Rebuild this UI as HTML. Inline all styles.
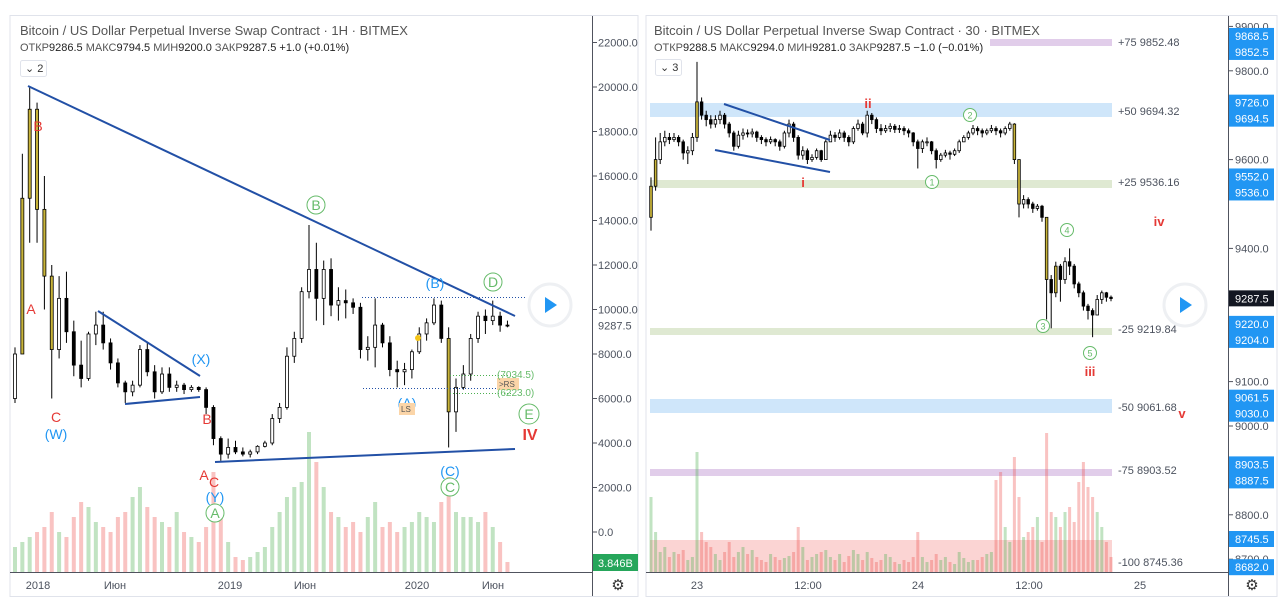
<!DOCTYPE html>
<html><head><meta charset="utf-8"><style>
html,body{margin:0;padding:0;background:#fff;width:1280px;height:600px;overflow:hidden}
svg{display:block;font-family:"Liberation Sans","DejaVu Sans",sans-serif}
.ax{font-size:11px;fill:#4c525e}
.lb{font-size:14px}
</style></head><body>
<svg id="chart" width="1280" height="600" viewBox="0 0 1280 600">
<rect x="0" y="0" width="1280" height="600" fill="#fff"/>
<rect x="10" y="15.5" width="628" height="581" fill="#fff" stroke="#e0e3eb"/>
<rect x="646" y="15.5" width="631" height="581" fill="#fff" stroke="#e0e3eb"/>
<line x1="592.5" y1="16" x2="592.5" y2="596" stroke="#50535e"/>
<line x1="10" y1="572.5" x2="592" y2="572.5" stroke="#50535e"/>
<line x1="1228.5" y1="16" x2="1228.5" y2="596" stroke="#50535e"/>
<line x1="646" y1="572.5" x2="1228" y2="572.5" stroke="#50535e"/>

<rect x="990" y="39" width="122" height="7" fill="#e1cdea"/>
<rect x="650" y="103" width="462" height="14" fill="#cfe6fa"/>
<rect x="650" y="180" width="462" height="8" fill="#dfe9d2"/>
<rect x="650" y="328" width="462" height="7" fill="#dfe9d2"/>
<rect x="650" y="399" width="462" height="14" fill="#cfe6fa"/>
<rect x="650" y="469" width="462" height="7" fill="#e1cdea"/>
<rect x="650" y="540" width="462" height="32" fill="rgba(239,83,80,0.25)"/>
<g class="ax" font-size="11">
<text x="1118" y="46">+75 9852.48</text>
<text x="1118" y="115">+50 9694.32</text>
<text x="1118" y="186">+25 9536.16</text>
<text x="1118" y="333">-25 9219.84</text>
<text x="1118" y="411">-50 9061.68</text>
<text x="1118" y="474">-75 8903.52</text>
<text x="1118" y="566">-100 8745.36</text>
</g>

<g id="lvol"></g>
<g id="rvol"></g>
<g id="lcandles"></g>
<g id="rcandles"></g>
<g id="laxis"></g>
<g id="raxis"></g>

<g stroke="#2250a6" stroke-width="2" fill="none">
<line x1="28" y1="86" x2="515" y2="316"/>
<line x1="215" y1="462" x2="515" y2="449"/>
<line x1="98" y1="311" x2="200" y2="376"/>
<line x1="125" y1="404" x2="200" y2="397"/>
</g>
<g stroke-dasharray="1,2" stroke-width="1">
<line x1="362" y1="297.5" x2="527" y2="297.5" stroke="#2250a6"/>
<line x1="363" y1="388.5" x2="497" y2="388.5" stroke="#2250a6"/>
<line x1="450" y1="375.5" x2="512" y2="375.5" stroke="#4caf50"/>
<line x1="450" y1="393.5" x2="512" y2="393.5" stroke="#4caf50"/>
</g>
<g class="lb" text-anchor="middle">
<text x="38" y="131" fill="#e53935">B</text>
<text x="31" y="314" fill="#e53935">A</text>
<text x="56" y="422" fill="#e53935">C</text>
<text x="56" y="439" fill="#2196f3">(W)</text>
<circle cx="316" cy="205" r="9" fill="#fff" stroke="#66bb6a"/>
<text x="316" y="210" fill="#66bb6a">B</text>
<text x="201" y="364" fill="#2196f3">(X)</text>
<text x="207" y="424" fill="#e53935">B</text>
<text x="204" y="480" fill="#e53935">A</text>
<text x="214" y="487" fill="#e53935">C</text>
<text x="215" y="502" fill="#2196f3">(Y)</text>
<circle cx="215" cy="513" r="9" fill="#fff" stroke="#66bb6a"/>
<text x="215" y="518" fill="#66bb6a">A</text>
<text x="435" y="288" fill="#2196f3">(B)</text>
<circle cx="493" cy="282" r="9" fill="#fff" stroke="#66bb6a"/>
<text x="493" y="287" fill="#66bb6a">D</text>
<text x="407" y="408" fill="#2196f3">(A)</text>
<text x="450" y="476" fill="#2196f3">(C)</text>
<circle cx="450" cy="487" r="9" fill="#fff" stroke="#66bb6a"/>
<text x="450" y="492" fill="#66bb6a">C</text>
<circle cx="529" cy="414" r="10" fill="#fff" stroke="#66bb6a"/>
<text x="529" y="419" fill="#66bb6a">E</text>
<text x="530" y="440" fill="#e53935" font-weight="bold" font-size="16">IV</text>
</g>
<rect x="399" y="403" width="16" height="12" fill="#fbd5a8"/>
<text x="401" y="412" font-size="8" fill="#555">LS</text>
<rect x="497" y="378" width="22" height="12" fill="#fbd5a8"/>
<text x="499" y="387" font-size="8" fill="#555">&gt;RS</text>
<text x="497" y="378" font-size="10" fill="#66bb6a">(7034.5)</text>
<text x="497" y="396" font-size="10" fill="#66bb6a">(6223.0)</text>
<circle cx="418" cy="338" r="3" fill="#f5c518"/>

<g stroke="#2250a6" stroke-width="2">
<line x1="724" y1="104" x2="830" y2="140"/>
<line x1="715" y1="150" x2="830" y2="172"/>
</g>
<g text-anchor="middle" font-size="13">
<text x="868" y="108" fill="#e53935" font-weight="bold">ii</text>
<text x="803" y="187" fill="#e53935" font-weight="bold">i</text>
<text x="1159" y="226" fill="#e53935" font-weight="bold">iv</text>
<text x="1090" y="376" fill="#e53935" font-weight="bold">iii</text>
<text x="1182" y="418" fill="#e53935" font-weight="bold">v</text>
</g>
<g text-anchor="middle" font-size="9" fill="#66bb6a">
<circle cx="970" cy="115" r="6.5" fill="#fff" stroke="#66bb6a"/><text x="970" y="118.5">2</text>
<circle cx="932" cy="182" r="6.5" fill="#fff" stroke="#66bb6a"/><text x="932" y="185.5">1</text>
<circle cx="1067" cy="230" r="6.5" fill="#fff" stroke="#66bb6a"/><text x="1067" y="233.5">4</text>
<circle cx="1043" cy="326" r="6.5" fill="#fff" stroke="#66bb6a"/><text x="1043" y="329.5">3</text>
<circle cx="1090" cy="353" r="6.5" fill="#fff" stroke="#66bb6a"/><text x="1090" y="356.5">5</text>
</g>

<text x="20" y="35" font-size="13" fill="#555">Bitcoin / US Dollar Perpetual Inverse Swap Contract · 1H · BITMEX</text>
<text x="20" y="51" font-size="11" fill="#555">ОТКР<tspan fill="#222">9286.5</tspan>  МАКС<tspan fill="#222">9794.5</tspan>  МИН<tspan fill="#222">9200.0</tspan>  ЗАКР<tspan fill="#222">9287.5</tspan> <tspan fill="#222">+1.0 (+0.01%)</tspan></text>
<rect x="20.5" y="60.5" width="26" height="16" rx="2" fill="#fff" stroke="#e0e3eb"/>
<text x="25" y="72" font-size="11" fill="#333">⌄ 2</text>
<text x="654" y="35" font-size="13" fill="#555">Bitcoin / US Dollar Perpetual Inverse Swap Contract · 30 · BITMEX</text>
<text x="654" y="51" font-size="11" fill="#555">ОТКР<tspan fill="#222">9288.5</tspan>  МАКС<tspan fill="#222">9294.0</tspan>  МИН<tspan fill="#222">9281.0</tspan>  ЗАКР<tspan fill="#222">9287.5</tspan> <tspan fill="#222">−1.0 (−0.01%)</tspan></text>
<rect x="655.5" y="59.5" width="26" height="16" rx="2" fill="#fff" stroke="#e0e3eb"/>
<text x="660" y="71" font-size="11" fill="#333">⌄ 3</text>

<g class="ax" text-anchor="middle">
<text x="38" y="589">2018</text>
<text x="115" y="589">Июн</text>
<text x="230" y="589">2019</text>
<text x="305" y="589">Июн</text>
<text x="417" y="589">2020</text>
<text x="493" y="589">Июн</text>
<text x="697" y="589">23</text>
<text x="808" y="589">12:00</text>
<text x="918" y="589">24</text>
<text x="1029" y="589">12:00</text>
<text x="1140" y="589">25</text>
</g>
<text x="618" y="590" font-size="15" text-anchor="middle" fill="#333">⚙</text>
<text x="1252" y="590" font-size="15" text-anchor="middle" fill="#333">⚙</text>

<circle cx="550" cy="305" r="21" fill="#fff" stroke="#eef0f3" stroke-width="3"/>
<path d="M545 297 L557 305 L545 313 Z" fill="#2196f3"/>
<circle cx="1185" cy="305" r="21" fill="#fff" stroke="#eef0f3" stroke-width="3"/>
<path d="M1180 297 L1192 305 L1180 313 Z" fill="#2196f3"/>
</svg>
<script>
// ---- Left chart data (bi-weekly BTC, Nov 2017 – Jun 2020) ----
const leftClose=[8000,15000,19000,14500,11500,8200,10500,9000,7500,6900,8900,9300,8500,7600,6700,6300,6600,8200,7200,6300,7100,6500,6600,6400,6500,6400,5600,4200,3500,3800,3600,3500,3600,3850,4000,5100,5600,7900,8700,10800,11800,10500,11800,10200,10400,10300,10100,8200,8300,9300,8500,7300,7200,7300,8100,8900,9400,10200,8700,5400,6500,7100,8700,9700,9500,9700,9300,9290];
const leftHigh=[8300,17000,20000,19300,16000,12000,11500,11700,9500,8600,9000,9900,9900,8700,7800,6800,6800,8400,8500,7500,7400,7400,6800,6700,6600,6550,6500,5700,4300,4200,4100,3800,3700,3900,4100,5300,5800,8300,9000,11000,13800,13000,12200,12300,11000,10900,10500,10300,8800,10500,9400,8800,7700,7600,8200,9200,9600,10500,10400,9200,6900,7500,8900,9900,10000,10400,9900,9500];
const leftLow=[5800,8000,13000,13000,10000,6000,7800,8500,7000,6500,6800,8400,8200,7300,6500,5800,6100,6500,7000,6000,6200,6300,6300,6200,6300,6300,5300,3900,3200,3300,3500,3400,3350,3500,3800,3900,4900,5500,7600,8500,10500,9500,9300,9700,9500,9600,9800,7800,7700,7400,8300,7000,6500,6600,6900,8000,8600,9300,8500,3800,4500,6400,6800,8500,8900,9300,9000,9200];
const leftFirstOpen=6000;
const leftVolume=[25,30,35,40,45,60,40,35,55,70,65,50,45,40,55,60,75,85,65,55,50,45,60,40,35,30,45,100,60,30,15,12,15,20,25,45,60,75,85,90,140,110,85,60,55,45,50,40,55,70,45,50,40,45,50,60,55,50,70,95,60,55,55,50,60,45,30,10];
const leftTicks=[22000,20000,18000,16000,14000,12000,10000,8000,6000,4000,2000,0];
const leftLast=9287.5;

// ---- Right chart data (30-min, 22–24 Jun) ----
const rightClose=[9540,9600,9640,9650,9645,9650,9640,9615,9620,9650,9730,9700,9690,9680,9690,9700,9680,9660,9630,9655,9660,9658,9662,9650,9645,9640,9645,9640,9630,9660,9680,9650,9610,9620,9600,9605,9620,9600,9640,9655,9650,9660,9650,9640,9670,9680,9660,9700,9690,9670,9665,9670,9675,9668,9670,9665,9660,9640,9625,9640,9640,9620,9600,9610,9615,9612,9620,9640,9650,9660,9670,9665,9660,9665,9670,9665,9660,9670,9680,9600,9500,9510,9500,9490,9495,9470,9330,9300,9360,9330,9370,9360,9320,9300,9270,9260,9250,9285,9300,9290,9287];
const rightHigh=[9560,9650,9660,9665,9660,9660,9655,9645,9630,9660,9820,9740,9710,9700,9700,9710,9705,9685,9665,9665,9670,9668,9670,9665,9655,9650,9652,9648,9645,9665,9690,9685,9655,9630,9625,9612,9625,9622,9645,9665,9662,9668,9665,9655,9675,9690,9685,9710,9705,9695,9680,9678,9682,9680,9678,9675,9670,9662,9645,9645,9650,9642,9625,9615,9622,9620,9625,9645,9655,9665,9678,9675,9670,9670,9678,9675,9670,9675,9685,9682,9600,9520,9515,9505,9500,9498,9470,9340,9370,9365,9380,9400,9365,9325,9305,9275,9265,9295,9305,9302,9294];
const rightLow=[9440,9530,9590,9630,9635,9640,9630,9600,9590,9610,9640,9690,9675,9670,9672,9680,9670,9650,9620,9625,9645,9650,9650,9640,9635,9630,9635,9630,9620,9625,9650,9640,9600,9600,9590,9595,9600,9595,9600,9640,9640,9645,9640,9630,9635,9665,9655,9650,9680,9660,9655,9660,9662,9660,9660,9655,9650,9630,9580,9615,9630,9612,9580,9595,9605,9600,9608,9615,9640,9645,9655,9655,9650,9655,9660,9655,9650,9655,9665,9590,9470,9490,9490,9480,9485,9460,9240,9220,9290,9280,9320,9340,9310,9290,9260,9240,9200,9250,9275,9280,9281];
const rightFirstOpen=9470;
const rightVolume=[75,40,20,25,15,20,18,22,12,15,120,40,30,25,18,12,20,30,15,20,25,18,22,15,12,10,18,15,12,14,16,20,45,25,12,15,18,20,22,15,12,18,10,16,22,18,12,20,14,10,12,18,15,10,8,12,10,15,40,15,10,12,18,12,15,10,8,20,14,10,12,12,15,18,20,92,100,45,30,115,75,35,40,45,55,30,139,60,55,45,60,65,50,90,110,85,75,60,45,30,15];
const rightTicks=[9900,9800,9600,9400,9100,9000,8800,8700];
const rightBoxes=[[9868.5,9852.5],[9726.0,9694.5],[9552.0,9536.0],[9220.0,9204.0],[9061.5,9030.0],[8903.5,8887.5],[8745.5],[8682.0]];
const rightLast=9287.5;

const NS='http://www.w3.org/2000/svg';
const yL=p=>532-p*0.02225, xL=i=>15+i*7.35;
const yR=p=>426-(p-9000)*0.444, xR=i=>651+i*4.6;
const volBase=572;
function el(tag,parent,attrs){const e=document.createElementNS(NS,tag);for(const k in attrs)e.setAttribute(k,attrs[k]);parent.appendChild(e);return e;}

function drawCandles(g,close,high,low,firstOpen,xf,yf,w,bigMove,prefix){
  const n=Math.min(close.length,high.length,low.length);
  for(let i=0;i<n;i++){
    const o=i===0?firstOpen:close[i-1], c=close[i], x=xf(i);
    const up=c>=o, big=Math.abs(c-o)>bigMove;
    const fill=big?'#c8b43a':(up?'#fff':'#000');
    const wick=el('line',g,{x1:x,x2:x,y1:yf(high[i]),y2:yf(low[i]),stroke:'#000','stroke-width':1});
    
    
    const top=yf(Math.max(o,c)), h=Math.max(1,Math.abs(yf(o)-yf(c)));
    const b=el('rect',g,{x:x-w/2,y:top,width:w,height:h,fill:fill,stroke:'#000','stroke-width':0.8});
    
    
  }
}
function drawVolume(g,vol,close,firstOpen,xf,w,prefix){
  for(let i=0;i<vol.length&&i<close.length;i++){
    const o=i===0?firstOpen:close[i-1];
    const r=el('rect',g,{x:xf(i)-w/2,y:volBase-vol[i],width:w,height:vol[i],fill:close[i]>=o?'rgba(76,175,80,0.35)':'rgba(239,83,80,0.35)'});
    
    
  }
}
drawVolume(document.getElementById('lvol'),leftVolume,leftClose,leftFirstOpen,xL,4,'left');
drawVolume(document.getElementById('rvol'),rightVolume,rightClose,rightFirstOpen,xR,3,'right');
drawCandles(document.getElementById('lcandles'),leftClose,leftHigh,leftLow,leftFirstOpen,xL,yL,3,2500,'left');
drawCandles(document.getElementById('rcandles'),rightClose,rightHigh,rightLow,rightFirstOpen,xR,yR,2.6,40,'right');

const la=document.getElementById('laxis');
leftTicks.forEach(v=>{
  const y=yL(v);
  const t=el('line',la,{x1:593,x2:597,y1:y,y2:y,stroke:'#50535e'});
  
  
  const tx=el('text',la,{x:598,y:y+4,class:'ax'});tx.textContent=v.toFixed(1);
  
  
});
{const y=yL(leftLast);
 const t=el('text',la,{x:598,y:y+4,class:'ax',fill:'#222'});t.textContent=leftLast.toFixed(1);
 
 
 const bx=el('rect',la,{x:593,y:554,width:45,height:17,fill:'#26a65b'});
 
 
 const bt=el('text',la,{x:598,y:567,'font-size':11,fill:'#fff'});bt.textContent='3.846В';
 
 }

const ra=document.getElementById('raxis');
rightTicks.forEach(v=>{
  const y=yR(v);
  const t=el('line',ra,{x1:1229,x2:1233,y1:y,y2:y,stroke:'#50535e'});
  
  
  const tx=el('text',ra,{x:1235,y:y+4,class:'ax'});tx.textContent=v.toFixed(1);
  
  
});
rightBoxes.forEach(pair=>{
  const ys=pair.map(yR);
  const mid=(Math.min(...ys)+Math.max(...ys))/2;
  const n=pair.length;
  const b=el('rect',ra,{x:1229,y:mid-8*n,width:45,height:16*n,fill:'#2196f3'});
  
  
  pair.forEach((v,k)=>{
    const ly=n===1?mid:mid-8+16*k;
    const tx=el('text',ra,{x:1235,y:ly+4,'font-size':11,fill:'#fff'});tx.textContent=v.toFixed(1);
    
    
  });
});
{const y=yR(rightLast);
 const b=el('rect',ra,{x:1229,y:y-8,width:45,height:16,fill:'#131722'});
 
 
 const t=el('text',ra,{x:1235,y:y+4,'font-size':11,fill:'#fff'});t.textContent=rightLast.toFixed(1);
 
 }
</script>
</body></html>
